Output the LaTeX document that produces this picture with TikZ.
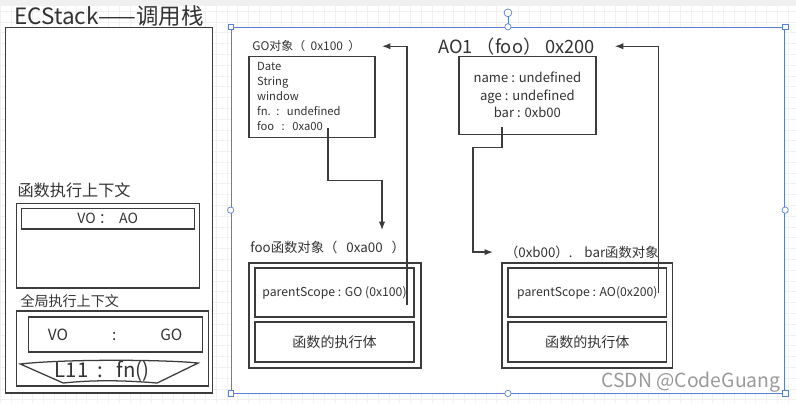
\documentclass[tikz,border=0pt]{standalone}
\usepackage{fontspec}
\setmainfont{Noto Sans CJK SC}
\usetikzlibrary{arrows.meta, positioning}
\definecolor{inkgray}{HTML}{3C3C3C}
\definecolor{textgray}{HTML}{333333}
\definecolor{selblue}{HTML}{5B7FD6}
\definecolor{gridgray}{HTML}{F1F1F1}
\definecolor{bandgray}{HTML}{F0F0F0}
\definecolor{markgray}{HTML}{9A9A9A}

\begin{document}
\begin{tikzpicture}[
  box/.style={rectangle, draw=inkgray, line width=0.9pt, fill=white, text=textgray},
  heading/.style={anchor=west, inner sep=0pt, text=textgray},
  link/.style={draw=inkgray, line width=0.9pt, -{Latex[length=6pt, width=4.5pt]}},
  handle/.style={draw=selblue, fill=white, line width=0.5pt, inner sep=0pt}
]
% canvas
\fill[white] (0,0) rectangle (19.9,-10.075);
\draw[gridgray, step=0.27] (0,0) grid (19.9,-10.075);
\fill[bandgray] (0,0) rectangle (19.9,-0.15);
\useasboundingbox (0,0) rectangle (19.9,-10.075);

% call stack
\node[box, minimum width=5.175cm, minimum height=9.15cm] (stack) at (2.7125,-5.25) {};
\node[heading, font=\fontsize{16}{16}\selectfont] (stacktitle) at (0.35,-0.4) {ECStack——调用栈};

\node[heading, font=\fontsize{11.5}{11.5}\selectfont] (fnlabel) at (0.425,-4.75) {函数执行上下文};
\node[box, minimum width=4.575cm, minimum height=2.125cm] (fnctx) at (2.6875,-6.1375) {};
\node[box, minimum width=4.325cm, minimum height=0.525cm, font=\fontsize{10}{10}\selectfont] (voao) at (2.6875,-5.4625) {VO\ ：\ \ AO};

\node[heading, font=\fontsize{10}{10}\selectfont] (gllabel) at (0.5,-7.525) {全局执行上下文};
\node[box, minimum width=4.8cm, minimum height=1.875cm] (glctx) at (2.8,-8.7125) {};
\node[box, minimum width=4.35cm, minimum height=0.875cm, font=\fontsize{11}{11}\selectfont] (vogo) at (2.875,-8.3625) {VO\hspace{1.1cm}:\hspace{1.1cm}GO};
\draw[inkgray, line width=0.9pt, fill=white] (0.5,-9.1) .. controls (1.5,-8.98) and (4,-8.98) .. (4.95,-9.075) -- (3.925,-9.575) .. controls (3,-9.5) and (2.3,-9.5) .. (1.575,-9.575) -- cycle;
\node[font=\fontsize{14.5}{14.5}\selectfont, text=textgray] (callsite) at (2.55,-9.27) {L11\ \ :\ \ \ fn()};

% heap
\node[rectangle, draw=selblue, line width=0.6pt, fill=white, minimum width=13.85cm, minimum height=9.15cm] (heap) at (12.7,-5.25) {};
\draw[selblue, line width=0.5pt] (heap.north) -- ++(0,0.35);
\node[handle, circle, minimum size=5.5pt] (knob) at ([yshift=0.35cm]heap.north) {};
\foreach \a in {north west, north east, south west, south east}
  \node[handle, rectangle, minimum size=4pt] (h-\a) at (heap.\a) {};
\foreach \a in {north, south, west, east}
  \node[handle, circle, minimum size=4.5pt] (h-\a) at (heap.\a) {};

% global object
\node[heading, font=\fontsize{8.5}{8.5}\selectfont] (golabel) at (6.3,-1.15) {GO对象（\ \ 0x100\ \ ）};
\node[box, text width=2.75cm, inner xsep=0.2cm, minimum height=2.025cm, align=left, font=\fontsize{8}{10.7}\selectfont] (gobox) at (7.8,-2.4125) {Date\\String\\window\\fn. :\ \ undefined\\foo\ \ :\ \ 0xa00};
\coordinate (fooref) at (8.2,-3.2);
\coordinate (fooin) at (9.55,-5.75);
\draw[link] (fooref) -- ++(0,-1.3) -| (fooin);

% activation object
\node[heading, font=\fontsize{13}{13}\selectfont] (aolabel) at (10.95,-1.15) {AO1\ （foo）\ 0x200};
\node[box, minimum width=3.425cm, minimum height=1.95cm, align=center, font=\fontsize{9.3}{12.4}\selectfont] (aobox) at (13.1875,-2.375) {name : undefined\\age : undefined\\bar : 0xb00};
\coordinate (barref) at (12.55,-3.175);
\coordinate (barin) at (12.325,-6.3);
\draw[link] (barref) -- ++(0,-0.5) -- ++(-0.725,0) |- (barin);

% foo function object
\node[heading, font=\fontsize{9.5}{9.5}\selectfont] (foolabel) at (6.25,-6.175) {foo函数对象（\ \ \ 0xa00\ \ \ ）};
\node[box, minimum width=4.3cm, minimum height=2.625cm] (fooobj) at (8.375,-7.8875) {};
\node[box, minimum width=3.975cm, minimum height=1.225cm, font=\fontsize{8.7}{8.7}\selectfont] (fooscope) at (8.3625,-7.3125) {parentScope : GO (0x100)};
\node[box, minimum width=3.975cm, minimum height=1cm, font=\fontsize{10}{10}\selectfont] (foobody) at (8.3625,-8.55) {函数的执行体};

% bar function object
\node[heading, font=\fontsize{9.5}{9.5}\selectfont] (barlabel) at (12.62,-6.3) {（0xb00）.\ \ \ \ bar函数对象};
\node[box, minimum width=4.275cm, minimum height=2.625cm] (barobj) at (14.6875,-7.8875) {};
\node[box, minimum width=3.975cm, minimum height=1.225cm, font=\fontsize{8.7}{8.7}\selectfont] (barscope) at (14.6875,-7.3125) {parentScope : AO(0x200)};
\node[box, minimum width=3.975cm, minimum height=1cm, font=\fontsize{10}{10}\selectfont] (barbody) at (14.6875,-8.55) {函数的执行体};

% scope links
\coordinate (goscope) at (10.175,-7.625);
\coordinate (goin) at (9.55,-1.15);
\draw[link] (goscope) |- (goin);
\coordinate (aoscope) at (16.475,-7.325);
\coordinate (aoin) at (15.375,-1.15);
\draw[link] (aoscope) |- (aoin);

\node[font=\fontsize{13.8}{13.8}\selectfont, text=markgray, anchor=east, inner sep=0pt] (watermark) at (19.525,-9.55) {CSDN @CodeGuang};
\end{tikzpicture}
\end{document}
